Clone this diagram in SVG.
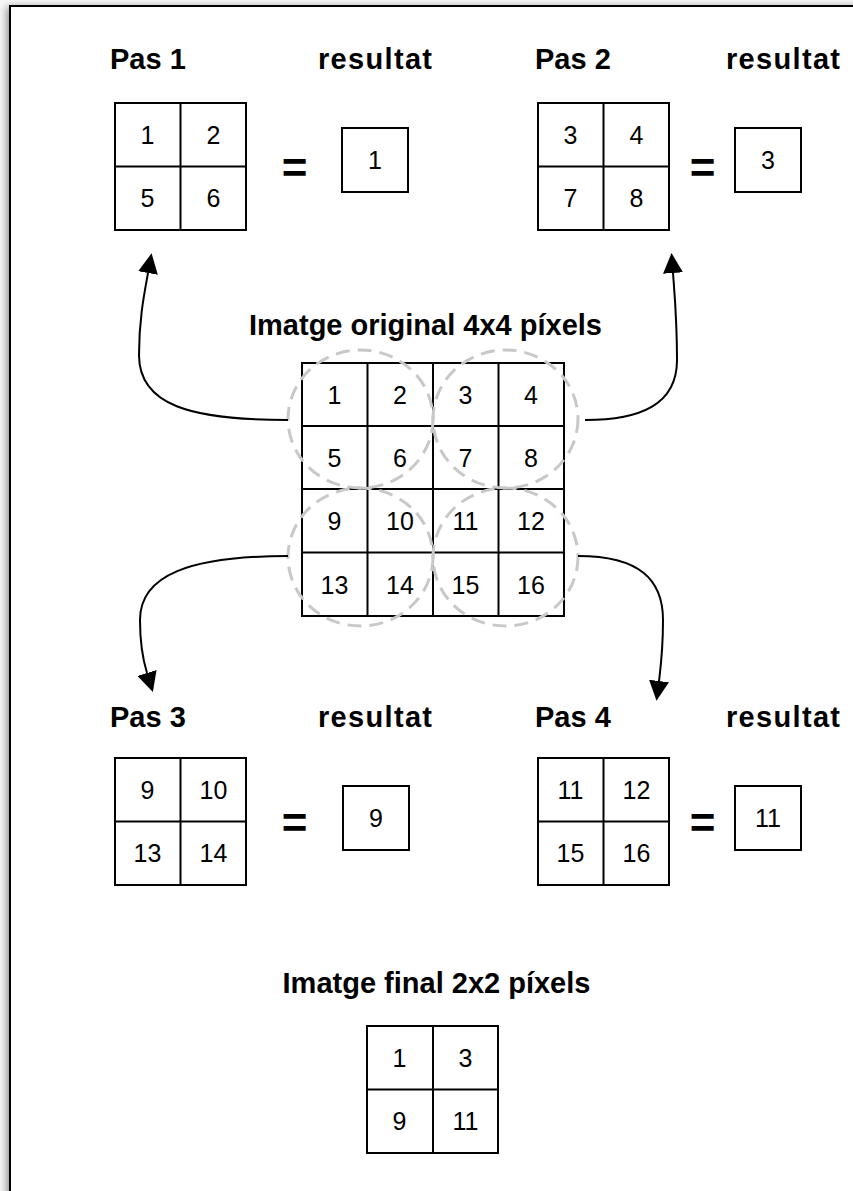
<svg xmlns="http://www.w3.org/2000/svg" width="853" height="1191" viewBox="0 0 853 1191">
  <defs>
    <filter id="pageShadow" x="-0.1" y="-0.1" width="1.2" height="1.2">
      <feGaussianBlur stdDeviation="4"/>
    </filter>
    <marker id="arrow" viewBox="0 0 20 20" refX="0" refY="10" markerWidth="20" markerHeight="20" markerUnits="userSpaceOnUse" orient="auto">
      <path d="M0,0 L20,10 L0,20 Z" fill="#000"/>
    </marker>
    <style>
      .title { font-family: "Liberation Sans", Arial, sans-serif; font-weight: bold; font-size: 29px; fill: #000; }
      .num { font-family: "Liberation Sans", Arial, sans-serif; font-size: 25px; fill: #000; text-anchor: middle; }
      .eq { font-family: "Liberation Sans", Arial, sans-serif; font-weight: bold; font-size: 44px; fill: #000; text-anchor: middle; }
      .cell { fill: #fff; stroke: #000; stroke-width: 2; }
      .grid-line { stroke: #000; stroke-width: 2; }
      .pool { fill: none; stroke: #c8c8c8; stroke-width: 3; stroke-dasharray: 14 8; }
      .link { fill: none; stroke: #000; stroke-width: 2; }
    </style>
  </defs>

  <!-- page background and frame -->
  <rect x="0" y="0" width="853" height="1191" fill="#f7f7f7"/>
  <rect x="7" y="7" width="900" height="1250" fill="#000" opacity="0.45" filter="url(#pageShadow)"/>
  <rect x="10" y="6" width="900" height="1250" fill="#fff" stroke="#000" stroke-width="2"/>

  <!-- Step 1 -->
  <g id="pas1">
    <text class="title" x="110" y="69">Pas 1</text>
    <rect class="cell" x="115" y="103" width="131" height="127"/>
    <line class="grid-line" x1="180.5" y1="103" x2="180.5" y2="230"/>
    <line class="grid-line" x1="115" y1="166.5" x2="246" y2="166.5"/>
    <text class="num" x="147.5" y="143.5">1</text>
    <text class="num" x="213.5" y="143.5">2</text>
    <text class="num" x="147.5" y="207">5</text>
    <text class="num" x="213.5" y="207">6</text>
  </g>
  <g id="res1">
    <text class="title" x="318" y="69" textLength="114" lengthAdjust="spacing">resultat</text>
    <text class="eq" x="294.5" y="183">=</text>
    <rect class="cell" x="342" y="128" width="66" height="64"/>
    <text class="num" x="375" y="169">1</text>
  </g>

  <!-- Step 2 -->
  <g id="pas2">
    <text class="title" x="535" y="69">Pas 2</text>
    <rect class="cell" x="538" y="103" width="131" height="127"/>
    <line class="grid-line" x1="603.5" y1="103" x2="603.5" y2="230"/>
    <line class="grid-line" x1="538" y1="166.5" x2="669" y2="166.5"/>
    <text class="num" x="570.5" y="143.5">3</text>
    <text class="num" x="636.5" y="143.5">4</text>
    <text class="num" x="570.5" y="207">7</text>
    <text class="num" x="636.5" y="207">8</text>
  </g>
  <g id="res2">
    <text class="title" x="726" y="69" textLength="114" lengthAdjust="spacing">resultat</text>
    <text class="eq" x="702.5" y="183">=</text>
    <rect class="cell" x="735" y="128" width="66" height="64"/>
    <text class="num" x="768" y="169">3</text>
  </g>

  <!-- Original 4x4 image -->
  <g id="original">
    <text class="title" x="425.5" y="335" text-anchor="middle">Imatge original 4x4 píxels</text>
    <rect class="cell" x="302" y="363" width="262" height="253"/>
    <line class="grid-line" x1="367.5" y1="363" x2="367.5" y2="616"/>
    <line class="grid-line" x1="433" y1="363" x2="433" y2="616"/>
    <line class="grid-line" x1="498.5" y1="363" x2="498.5" y2="616"/>
    <line class="grid-line" x1="302" y1="426" x2="564" y2="426"/>
    <line class="grid-line" x1="302" y1="489" x2="564" y2="489"/>
    <line class="grid-line" x1="302" y1="552.5" x2="564" y2="552.5"/>
    <text class="num" x="334.5" y="404">1</text>
    <text class="num" x="400" y="404">2</text>
    <text class="num" x="465.5" y="404">3</text>
    <text class="num" x="531" y="404">4</text>
    <text class="num" x="334.5" y="467">5</text>
    <text class="num" x="400" y="467">6</text>
    <text class="num" x="465.5" y="467">7</text>
    <text class="num" x="531" y="467">8</text>
    <text class="num" x="334.5" y="530">9</text>
    <text class="num" x="400" y="530">10</text>
    <text class="num" x="465.5" y="530">11</text>
    <text class="num" x="531" y="530">12</text>
    <text class="num" x="334.5" y="594">13</text>
    <text class="num" x="400" y="594">14</text>
    <text class="num" x="465.5" y="594">15</text>
    <text class="num" x="531" y="594">16</text>
    <!-- 2x2 pooling windows -->
    <ellipse class="pool" cx="360.5" cy="419" rx="72.5" ry="69"/>
    <ellipse class="pool" cx="505.5" cy="419" rx="72.5" ry="69"/>
    <ellipse class="pool" cx="360.5" cy="557" rx="72.5" ry="69"/>
    <ellipse class="pool" cx="505.5" cy="557" rx="72.5" ry="69"/>
  </g>

  <!-- connectors -->
  <g id="connectors">
    <path class="link" d="M288,420 C190,420 139,405 139,355 C139,320 144,295 148,273" marker-end="url(#arrow)"/>
    <path class="link" d="M585,420 C640,420 677,405 677,360 C677,320 675,300 673,273" marker-end="url(#arrow)"/>
    <path class="link" d="M288,556 C190,556 140,575 140,620 C140,645 143,660 147,673" marker-end="url(#arrow)"/>
    <path class="link" d="M578,556 C640,556 663,580 663,620 C663,650 661,665 659,681" marker-end="url(#arrow)"/>
  </g>

  <!-- Step 3 -->
  <g id="pas3">
    <text class="title" x="110" y="727">Pas 3</text>
    <rect class="cell" x="115" y="758" width="131" height="127"/>
    <line class="grid-line" x1="180.5" y1="758" x2="180.5" y2="885"/>
    <line class="grid-line" x1="115" y1="821.5" x2="246" y2="821.5"/>
    <text class="num" x="147.5" y="799">9</text>
    <text class="num" x="213.5" y="799">10</text>
    <text class="num" x="147.5" y="862">13</text>
    <text class="num" x="213.5" y="862">14</text>
  </g>
  <g id="res3">
    <text class="title" x="318" y="727" textLength="114" lengthAdjust="spacing">resultat</text>
    <text class="eq" x="294.5" y="838">=</text>
    <rect class="cell" x="343" y="786" width="66" height="64"/>
    <text class="num" x="376" y="827">9</text>
  </g>

  <!-- Step 4 -->
  <g id="pas4">
    <text class="title" x="535" y="727">Pas 4</text>
    <rect class="cell" x="538" y="758" width="131" height="127"/>
    <line class="grid-line" x1="603.5" y1="758" x2="603.5" y2="885"/>
    <line class="grid-line" x1="538" y1="821.5" x2="669" y2="821.5"/>
    <text class="num" x="570.5" y="799">11</text>
    <text class="num" x="636.5" y="799">12</text>
    <text class="num" x="570.5" y="862">15</text>
    <text class="num" x="636.5" y="862">16</text>
  </g>
  <g id="res4">
    <text class="title" x="726" y="727" textLength="114" lengthAdjust="spacing">resultat</text>
    <text class="eq" x="702.5" y="838">=</text>
    <rect class="cell" x="735" y="786" width="66" height="64"/>
    <text class="num" x="768" y="827">11</text>
  </g>

  <!-- Final 2x2 image -->
  <g id="final">
    <text class="title" x="436.5" y="993" text-anchor="middle">Imatge final 2x2 píxels</text>
    <rect class="cell" x="367" y="1026" width="131" height="127"/>
    <line class="grid-line" x1="433" y1="1026" x2="433" y2="1153"/>
    <line class="grid-line" x1="367" y1="1089.5" x2="498" y2="1089.5"/>
    <text class="num" x="399.5" y="1067">1</text>
    <text class="num" x="465.5" y="1067">3</text>
    <text class="num" x="399.5" y="1130">9</text>
    <text class="num" x="465.5" y="1130">11</text>
  </g>
</svg>
